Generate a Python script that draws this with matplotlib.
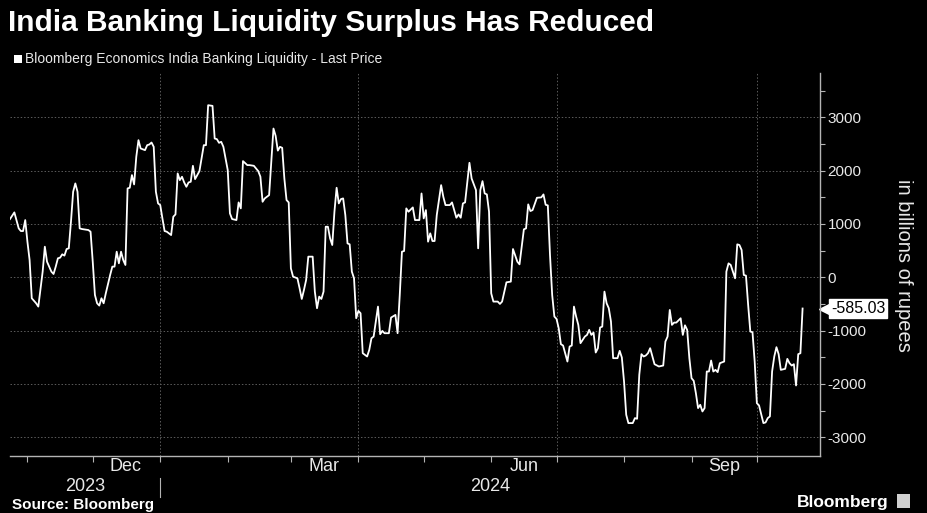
import matplotlib
matplotlib.use("Agg")
import matplotlib.pyplot as plt
import matplotlib.dates as mdates
import matplotlib.ticker as mticker
import matplotlib.transforms as mtransforms
from matplotlib.patches import Rectangle
import pandas as pd

# ------------------------------------------------------------------
# DATA  (billions of rupees)
# ------------------------------------------------------------------
dates = [
    "2023-10-24", "2023-10-26", "2023-10-28", "2023-10-29", "2023-10-30", "2023-10-31",
    "2023-11-01", "2023-11-02", "2023-11-03", "2023-11-05", "2023-11-06", "2023-11-08",
    "2023-11-09", "2023-11-10", "2023-11-12", "2023-11-13", "2023-11-14", "2023-11-15",
    "2023-11-16", "2023-11-17", "2023-11-18", "2023-11-19", "2023-11-20", "2023-11-21",
    "2023-11-22", "2023-11-23", "2023-11-24", "2023-11-25", "2023-11-26", "2023-11-29",
    "2023-11-30", "2023-12-01", "2023-12-02", "2023-12-03", "2023-12-04", "2023-12-05",
    "2023-12-06", "2023-12-07", "2023-12-09", "2023-12-10", "2023-12-11", "2023-12-12",
    "2023-12-13", "2023-12-14", "2023-12-15", "2023-12-16", "2023-12-17", "2023-12-18",
    "2023-12-19", "2023-12-20", "2023-12-21", "2023-12-22", "2023-12-23", "2023-12-25",
    "2023-12-26", "2023-12-27", "2023-12-28", "2023-12-29", "2023-12-30", "2023-12-31",
    "2024-01-01", "2024-01-02", "2024-01-03", "2024-01-04", "2024-01-06", "2024-01-07",
    "2024-01-08", "2024-01-09", "2024-01-10", "2024-01-11", "2024-01-12", "2024-01-13",
    "2024-01-14", "2024-01-15", "2024-01-16", "2024-01-17", "2024-01-18", "2024-01-19",
    "2024-01-20", "2024-01-21", "2024-01-22", "2024-01-23", "2024-01-25", "2024-01-26",
    "2024-01-27", "2024-01-28", "2024-01-29", "2024-01-30", "2024-02-01", "2024-02-02",
    "2024-02-03", "2024-02-05", "2024-02-06", "2024-02-07", "2024-02-08", "2024-02-10",
    "2024-02-11", "2024-02-13", "2024-02-15", "2024-02-16", "2024-02-17", "2024-02-18",
    "2024-02-20", "2024-02-21", "2024-02-22", "2024-02-23", "2024-02-24", "2024-02-25",
    "2024-02-26", "2024-02-27", "2024-02-28", "2024-02-29", "2024-03-01", "2024-03-02",
    "2024-03-04", "2024-03-05", "2024-03-06", "2024-03-07", "2024-03-08", "2024-03-09",
    "2024-03-11", "2024-03-12", "2024-03-13", "2024-03-14", "2024-03-15", "2024-03-16",
    "2024-03-17", "2024-03-18", "2024-03-19", "2024-03-20", "2024-03-21", "2024-03-22",
    "2024-03-23", "2024-03-24", "2024-03-25", "2024-03-26", "2024-03-27", "2024-03-28",
    "2024-03-29", "2024-03-30", "2024-03-31", "2024-04-01", "2024-04-02", "2024-04-03",
    "2024-04-04", "2024-04-05", "2024-04-06", "2024-04-07", "2024-04-08", "2024-04-10",
    "2024-04-11", "2024-04-12", "2024-04-13", "2024-04-15", "2024-04-16", "2024-04-18",
    "2024-04-19", "2024-04-20", "2024-04-21", "2024-04-22", "2024-04-23", "2024-04-24",
    "2024-04-26", "2024-04-27", "2024-04-29", "2024-04-30", "2024-05-01", "2024-05-02",
    "2024-05-03", "2024-05-04", "2024-05-05", "2024-05-06", "2024-05-07", "2024-05-09",
    "2024-05-10", "2024-05-11", "2024-05-13", "2024-05-14", "2024-05-16", "2024-05-17",
    "2024-05-18", "2024-05-19", "2024-05-20", "2024-05-21", "2024-05-22", "2024-05-23",
    "2024-05-25", "2024-05-26", "2024-05-27", "2024-05-28", "2024-05-29", "2024-05-30",
    "2024-05-31", "2024-06-01", "2024-06-02", "2024-06-04", "2024-06-05", "2024-06-06",
    "2024-06-08", "2024-06-10", "2024-06-11", "2024-06-13", "2024-06-14", "2024-06-16",
    "2024-06-17", "2024-06-18", "2024-06-19", "2024-06-20", "2024-06-22", "2024-06-24",
    "2024-06-25", "2024-06-26", "2024-06-27", "2024-06-28", "2024-06-29", "2024-06-30",
    "2024-07-01", "2024-07-02", "2024-07-03", "2024-07-04", "2024-07-06", "2024-07-07",
    "2024-07-08", "2024-07-09", "2024-07-10", "2024-07-11", "2024-07-12", "2024-07-14",
    "2024-07-15", "2024-07-16", "2024-07-17", "2024-07-18", "2024-07-19", "2024-07-20",
    "2024-07-21", "2024-07-22", "2024-07-23", "2024-07-24", "2024-07-25", "2024-07-26",
    "2024-07-27", "2024-07-29", "2024-07-30", "2024-07-31", "2024-08-01", "2024-08-02",
    "2024-08-03", "2024-08-05", "2024-08-06", "2024-08-07", "2024-08-08", "2024-08-09",
    "2024-08-10", "2024-08-11", "2024-08-12", "2024-08-13", "2024-08-15", "2024-08-17",
    "2024-08-19", "2024-08-20", "2024-08-21", "2024-08-22", "2024-08-23", "2024-08-24",
    "2024-08-25", "2024-08-27", "2024-08-28", "2024-08-29", "2024-08-30", "2024-08-31",
    "2024-09-01", "2024-09-02", "2024-09-03", "2024-09-04", "2024-09-05", "2024-09-06",
    "2024-09-07", "2024-09-08", "2024-09-09", "2024-09-10", "2024-09-11", "2024-09-12",
    "2024-09-13", "2024-09-14", "2024-09-16", "2024-09-17", "2024-09-18", "2024-09-19",
    "2024-09-21", "2024-09-22", "2024-09-23", "2024-09-24", "2024-09-25", "2024-09-26",
    "2024-09-27", "2024-09-28", "2024-09-29", "2024-09-30", "2024-10-01", "2024-10-02",
    "2024-10-04", "2024-10-05", "2024-10-06", "2024-10-07", "2024-10-08", "2024-10-09",
    "2024-10-10", "2024-10-11", "2024-10-12", "2024-10-14", "2024-10-15", "2024-10-16",
    "2024-10-17", "2024-10-18", "2024-10-19", "2024-10-20", "2024-10-21", "2024-10-22",
]

liquidity = [
    1092, 1217, 917, 867, 867, 1073,
    668, 324, -393, -487, -549, 106,
    574, 293, 106, 62, 200, 356,
    368, 431, 406, 530, 543, 1042,
    1604, 1760, 1604, 917, 905, 886,
    855, 293, -331, -487, -530, -393,
    -487, -300, 44, 200, 200, 480,
    262, 480, 324, 231, 1666, 1679,
    1916, 1741, 2259, 2571, 2415, 2384,
    2477, 2490, 2527, 2446, 1604, 1385,
    1354, 1104, 867, 855, 792, 1136,
    1179, 1947, 1822, 1885, 1778, 1697,
    1778, 1791, 2090, 1841, 1916, 1991,
    2228, 2477, 2477, 3226, 3214, 2602,
    2590, 2521, 2540, 2446, 2009, 1198,
    1092, 1073, 1404, 1292, 2178, 2103,
    2103, 2090, 1991, 1885, 1416, 1479,
    1541, 2165, 2789, 2650, 2375, 2446,
    2427, 1853, 1448, 1404, 168, 12,
    -19, -206, -406, -237, -50, 387,
    387, -268, -580, -362, -406, -268,
    948, 948, 730, 605, 1229, 1679,
    1385, 1466, 1479, 1167, 636, 618,
    106, -19, -767, -630, -674, -1423,
    -1454, -1485, -1360, -1142, -1111, -549,
    -1067, -1005, -1048, -1048, -755, -705,
    -1048, -331, 480, 493, 1292, 1229,
    1310, 1073, 1073, 1572, 1104, 1260,
    668, 824, 680, 680, 1167, 1728,
    1510, 1354, 1354, 1404, 1117, 1179,
    1117, 1385, 1404, 1778, 2147, 1853,
    1635, 543, 1635, 1803, 1572, 1554,
    1229, -300, -455, -455, -499, -455,
    -94, -81, 530, 293, 243, 899,
    917, 1367, 1242, 1260, 1491, 1498,
    1554, 1360, 1348, 418, -331, -736,
    -780, -955, -1254, -1279, -1579, -1298,
    -1279, -549, -736, -892, -1235, -1111,
    -1080, -986, -1080, -1036, -1410, -1329,
    -942, -924, -268, -487, -580, -830,
    -1516, -1516, -1379, -1504, -1953, -2577,
    -2733, -2733, -2640, -2652, -1828, -1441,
    -1485, -1466, -1423, -1329, -1629, -1672,
    -1654, -1204, -1111, -612, -892, -849,
    -849, -768, -1080, -900, -986, -1516,
    -1891, -1941, -2172, -2452, -2390, -2515,
    -2452, -1766, -1766, -1560, -1766, -1735,
    -1778, -1610, -1579, 106, 262, 231,
    -19, 618, 605, 512, 44, 31,
    -518, -1017, -1030, -1579, -2359, -2402,
    -2733, -2721, -2640, -2608, -1766, -1485,
    -1310, -1441, -1735, -1716, -1529, -1610,
    -1654, -1629, -2028, -1441, -1423, -585.03,
]

month_labels = ["Dec", "Mar", "Jun", "Sep"]
month_label_dates = ["2023-12-16", "2024-03-16", "2024-06-16", "2024-09-16"]
year_labels = ["2023", "2024"]
x_start, x_end = "2023-10-24", "2024-10-30"
y_min, y_max = -3350, 3830

# ------------------------------------------------------------------
# STYLE
# ------------------------------------------------------------------
plt.rcParams["font.family"] = ["Liberation Sans Narrow", "Liberation Sans", "DejaVu Sans"]
BG = "black"
FG = "#e8e8e8"
SPINE = "#b4b4b4"
GRID = "#5c5c5c"

fig = plt.figure(figsize=(9.27, 5.13), dpi=100, facecolor=BG)
ax = fig.add_axes([10 / 927, 57 / 513, 810 / 927, 383 / 513], facecolor=BG)

x = pd.to_datetime(dates)
ax.plot(x, liquidity, color="white", linewidth=1.3, solid_joinstyle="round")

ax.set_xlim(pd.Timestamp(x_start), pd.Timestamp(x_end))
ax.set_ylim(y_min, y_max)

# spines
for side in ["left", "top"]:
    ax.spines[side].set_visible(False)
for side in ["right", "bottom"]:
    ax.spines[side].set_color(SPINE)
    ax.spines[side].set_linewidth(1.0)

# y axis on the right
ax.yaxis.tick_right()
ax.yaxis.set_major_locator(mticker.MultipleLocator(1000))
ax.yaxis.set_minor_locator(mticker.MultipleLocator(500))
ax.yaxis.set_major_formatter(mticker.FuncFormatter(lambda v, p: f"{int(v)}"))
ax.tick_params(axis="y", which="both", direction="out", length=3.5, width=0.8,
               color=SPINE, labelcolor=FG, pad=2)
for lab in ax.get_yticklabels():
    lab.set_fontfamily(["Liberation Sans", "DejaVu Sans"])
    lab.set_fontsize(11)

# x axis: quarter gridlines, month ticks
ax.xaxis.set_major_locator(mdates.MonthLocator(bymonth=[1, 4, 7, 10]))
ax.xaxis.set_minor_locator(mdates.MonthLocator())
ax.tick_params(axis="x", which="both", direction="out", length=4, width=0.8,
               color=SPINE, labelbottom=False)

ax.grid(True, which="major", axis="both", color=GRID, linestyle=(0, (1.5, 2)), linewidth=0.7)

# month labels and year row
xtrans = ax.get_xaxis_transform()
for lab, d in zip(month_labels, month_label_dates):
    ax.text(pd.Timestamp(d), -0.027, lab, transform=xtrans, ha="center", va="center",
            color=FG, fontsize=13)

year_break = pd.Timestamp("2024-01-01")
left, right = pd.Timestamp(x_start), pd.Timestamp(x_end)
ax.text(left + (year_break - left) / 2, -0.08, year_labels[0], transform=xtrans,
        ha="center", va="center", color=FG, fontsize=13)
ax.text(year_break + (right - year_break) / 2, -0.08, year_labels[1], transform=xtrans,
        ha="center", va="center", color=FG, fontsize=13)
ax.plot([year_break, year_break], [-0.057, -0.107], transform=xtrans, color=SPINE,
        linewidth=0.8, clip_on=False)

# y label
fig.text(903 / 927, 1 - 265 / 513, "in billions of rupees", rotation=-90, ha="center",
         va="center", color=FG, fontsize=14.5, family=["Liberation Sans", "DejaVu Sans"])

# last value tag
last_val = liquidity[-1]
ytrans = ax.get_yaxis_transform()
tip = mtransforms.offset_copy(ytrans, fig=fig, x=4.5, y=0, units="points")
ax.plot([1], [last_val], marker="<", markersize=10, color="white", transform=tip,
        clip_on=False)
ax.annotate(f"{last_val:.2f}", xy=(1, last_val), xycoords=ytrans, xytext=(8, 0),
            textcoords="offset points", ha="left", va="center", fontsize=11.5,
            color="black", family=["Liberation Sans", "DejaVu Sans"],
            bbox=dict(boxstyle="square,pad=0.12", fc="white", ec="white"),
            annotation_clip=False)

# title, legend, footer
fig.text(8 / 927, 1 - 9 / 513, "India Banking Liquidity Surplus Has Reduced",
         ha="left", va="top", color="white", fontsize=21.5, fontweight="bold")
fig.patches.append(Rectangle((14 / 927, 1 - 63 / 513), 8 / 927, 8 / 513,
                             transform=fig.transFigure, facecolor="white", edgecolor="none"))
fig.text(25 / 927, 1 - 59 / 513, "Bloomberg Economics India Banking Liquidity - Last Price",
         ha="left", va="center", color=FG, fontsize=10)
fig.text(12 / 927, 1 - 505 / 513, "Source: Bloomberg", ha="left", va="center",
         color="white", fontsize=11, fontweight="bold")
fig.text(889 / 927, 1 - 502 / 513, "Bloomberg", ha="right", va="center",
         color="white", fontsize=12.5, fontweight="bold")
fig.patches.append(Rectangle((897 / 927, 1 - 508 / 513), 13 / 927, 14 / 513,
                             transform=fig.transFigure, facecolor="#d0d0d0", edgecolor="none"))

fig.savefig("out.png", dpi=100, facecolor=BG)
